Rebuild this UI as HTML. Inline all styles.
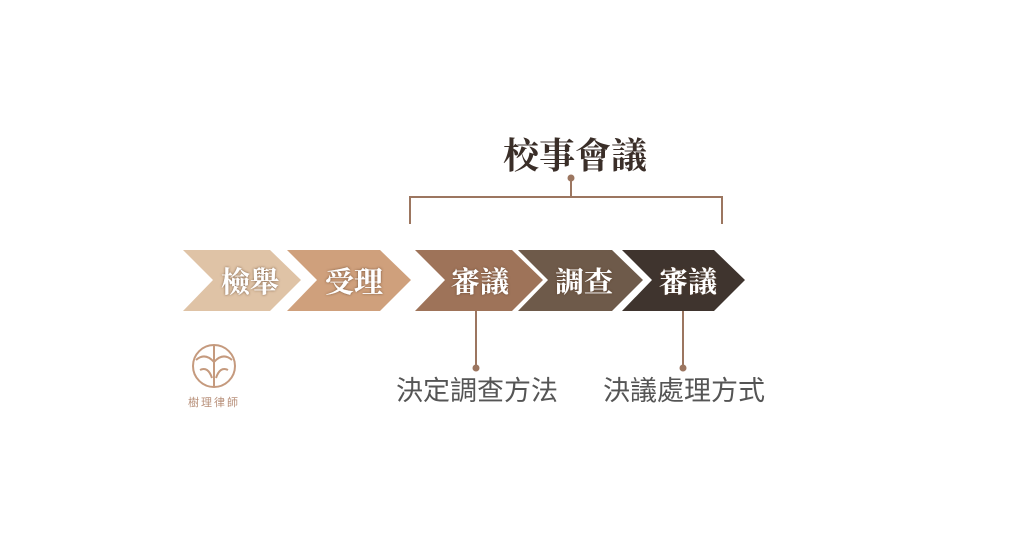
<!DOCTYPE html>
<html><head><meta charset="utf-8"><style>
body{margin:0;width:1024px;height:538px;background:#fff;overflow:hidden}
</style></head><body>
<svg width="1024" height="538" xmlns="http://www.w3.org/2000/svg">
<defs><filter id="sh"><feDropShadow dx="0" dy="0" stdDeviation="1.2" flood-color="#5a3a28" flood-opacity="0.8"/></filter></defs>
<text x="575" y="168" text-anchor="middle" font-family="Liberation Serif,'Noto Serif CJK SC',serif" font-weight="bold" font-size="36" fill="#3a2e28">校事會議</text>
<g stroke="#9c7660" stroke-width="2" fill="none">
<path d="M410 224 V197 H722 V224"/><path d="M571 197 V178"/>
<path d="M476 311 V368"/><path d="M683 311 V368"/>
</g>
<g fill="#9c7660"><circle cx="571" cy="178" r="3.5"/><circle cx="476" cy="368" r="3.5"/><circle cx="683" cy="368" r="3.5"/></g>
<polygon points="183,250 270,250 301,280 270,311 183,311 213,280" fill="#dfc3a6"/>
<polygon points="287,250 380,250 411,280 380,311 287,311 317,280" fill="#cfa07c"/>
<polygon points="415,250 512,250 543,280 512,311 415,311 445,280" fill="#9e7359"/>
<polygon points="518,250 612,250 643,280 612,311 518,311 548,280" fill="#6e5a4a"/>
<polygon points="622,250 714,250 745,280 714,311 622,311 652,280" fill="#3f342e"/>
<g font-family="Liberation Serif,'Noto Serif CJK SC',serif" font-weight="bold" font-size="29" fill="#fff" text-anchor="middle" filter="url(#sh)">
<text x="250" y="292">檢舉</text><text x="354" y="292">受理</text>
<text x="480" y="292">審議</text><text x="584" y="292">調查</text><text x="688" y="292">審議</text>
</g>
<g font-family="Liberation Sans,'Noto Sans CJK TC',sans-serif" font-size="27" fill="#555" text-anchor="middle">
<text x="477" y="400">決定調查方法</text><text x="684" y="400">決議處理方式</text>
</g>
<g stroke="#c59a7e" stroke-width="2" fill="none">
<circle cx="214" cy="366" r="21"/><path d="M214 345 V387"/>
<path d="M196 360 Q205 352 214 362 Q223 352 232 360"/>
<path d="M200 370 Q208 366 212 378"/><path d="M228 370 Q220 366 216 378"/>
</g>
<text x="214" y="406" text-anchor="middle" font-family="'Noto Sans CJK TC',sans-serif" font-size="11" fill="#b8907a" letter-spacing="2">樹理律師</text>
</svg>
</body></html>
